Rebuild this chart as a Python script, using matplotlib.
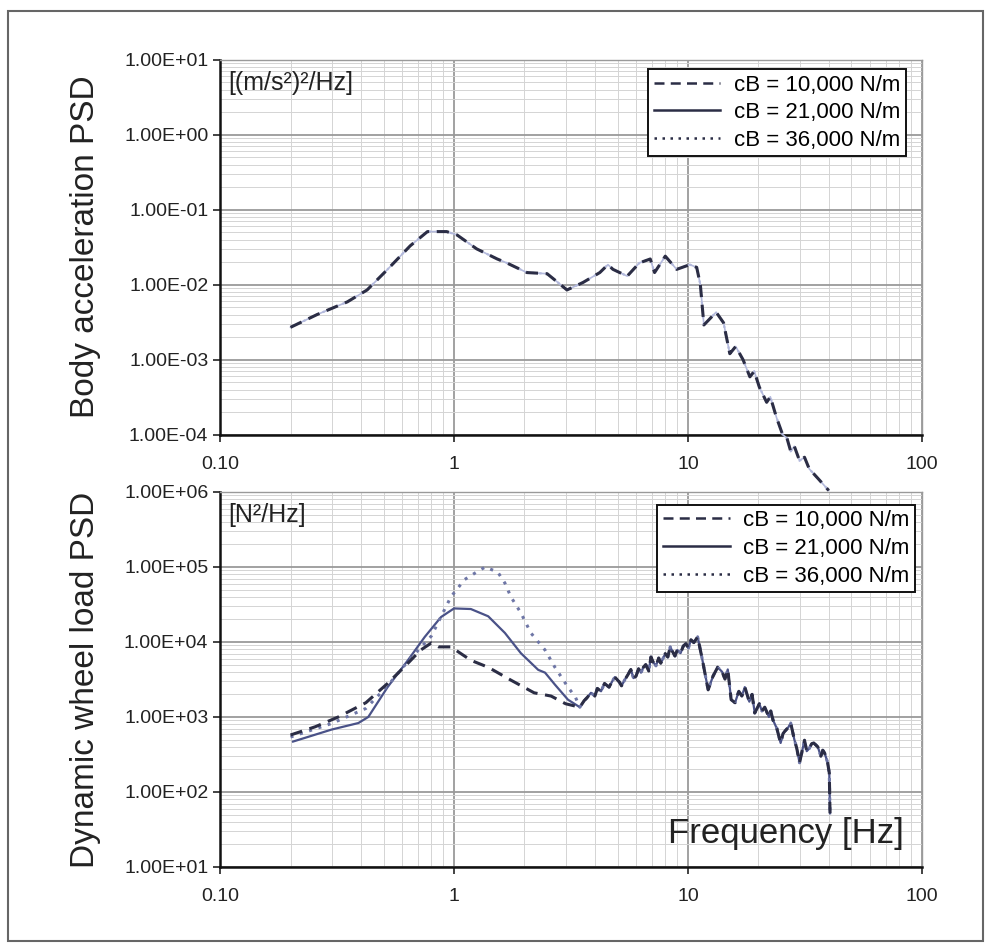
import matplotlib
matplotlib.use("Agg")
import matplotlib.pyplot as plt
from matplotlib.ticker import FixedLocator, FuncFormatter, LogLocator, NullFormatter
from matplotlib.patches import Rectangle

plt.rcParams['font.family'] = ['Liberation Sans', 'DejaVu Sans']

# legend labels
labels = ["cB = 10,000 N/m", "cB = 21,000 N/m", "cB = 36,000 N/m"]

# body acceleration PSD (the three spring rates lie on top of each other here)
body_freq = [0.2, 0.26, 0.35, 0.425, 0.52, 0.65, 0.77, 0.93, 1.03, 1.25, 1.53, 1.68,
             2.05, 2.5, 2.75, 3.04, 3.56, 4.2, 4.55, 4.78, 5.5, 6.2, 6.9, 7.2, 8.0,
             8.95, 10.2, 10.9, 11.3, 11.7, 13.2, 14.2, 15.1, 16.0, 17.2, 18.4, 19.2,
             20.2, 21.7, 22.5, 23.9, 25.4, 26.5, 27.5, 28.5, 30.0, 31.5, 33.0, 36.0, 40.0]
body_psd = [2.7e-3, 4.0e-3, 5.9e-3, 8.5e-3, 1.6e-2, 3.3e-2, 5.1e-2, 5.1e-2, 4.6e-2,
            3.0e-2, 2.2e-2, 1.95e-2, 1.45e-2, 1.4e-2, 1.1e-2, 8.5e-3, 1.07e-2, 1.45e-2,
            1.85e-2, 1.6e-2, 1.3e-2, 1.95e-2, 2.2e-2, 1.45e-2, 2.4e-2, 1.6e-2, 1.85e-2,
            1.7e-2, 1.0e-2, 2.9e-3, 4.3e-3, 3.1e-3, 1.2e-3, 1.5e-3, 1.0e-3, 5.9e-4,
            7.0e-4, 4.3e-4, 2.7e-4, 3.2e-4, 1.7e-4, 1.0e-4, 9.0e-5, 6.0e-5, 7.0e-5,
            4.5e-5, 5.0e-5, 3.5e-5, 2.6e-5, 1.8e-5]

# dynamic wheel load PSD, low frequency part differs per spring rate
wheel_freq_10k = [0.2, 0.255, 0.32, 0.42, 0.52, 0.635, 0.72, 0.8, 0.86, 0.97, 1.18,
                  1.4, 1.75, 2.2, 2.6, 3.0]
wheel_psd_10k = [575, 740, 1000, 1550, 2800, 5200, 7800, 9700, 8600, 8600, 5700,
                 4600, 3100, 2100, 1900, 1500]
wheel_freq_21k = [0.205, 0.3, 0.39, 0.43, 0.52, 0.635, 0.75, 0.88, 1.0, 1.18, 1.4,
                  1.65, 1.93, 2.29, 2.45, 2.7, 3.07]
wheel_psd_21k = [470, 680, 830, 1000, 2500, 5700, 11700, 21500, 28000, 27500, 22000,
                 13200, 7100, 4250, 3900, 2700, 1700]
wheel_freq_36k = [0.2, 0.3, 0.42, 0.52, 0.635, 0.8, 0.97, 1.11, 1.23, 1.36, 1.54,
                  1.65, 1.75, 1.93, 2.13, 2.45, 2.7, 3.07, 3.3]
wheel_psd_36k = [540, 820, 1300, 2600, 5500, 12000, 40000, 68000, 83000, 100000,
                 85000, 61000, 40000, 24500, 13200, 7800, 4600, 2500, 1850]

# high frequency part, same for all three
tail_freq = [3.45, 3.6, 3.7, 3.85, 4.0, 4.1, 4.25, 4.4, 4.6, 4.75, 4.87, 5.1, 5.2,
             5.36, 5.55, 5.7, 5.85, 6.0, 6.15, 6.3, 6.45, 6.6, 6.8, 6.95, 7.1, 7.3,
             7.5, 7.65, 7.8, 8.0, 8.2, 8.4, 8.6, 8.8, 9.0, 9.3, 9.55, 9.8, 10.05,
             10.3, 10.6, 11.0, 11.5, 12.2, 12.8, 13.4, 14.0, 14.4, 14.8, 15.3, 15.9,
             16.5, 17.0, 17.5, 18.3, 18.8, 19.3, 20.2, 20.7, 21.3, 22.2, 22.6, 23.1,
             24.0, 24.9, 25.5, 26.0, 26.8, 27.5, 28.5, 29.2, 30.0, 31.5, 32.2, 33.0,
             33.8, 34.5, 35.9, 37.0, 37.7, 38.4, 39.5, 40.2, 40.5]
tail_psd = [1350, 1650, 1800, 2100, 1900, 2400, 2200, 2800, 2500, 3000, 3400, 2900,
            2600, 3100, 3700, 4300, 3300, 3500, 4400, 3900, 4600, 5000, 4100, 6300,
            5400, 4800, 6100, 5200, 5900, 7000, 6300, 8600, 7400, 6500, 7800, 7100,
            8800, 9500, 8300, 10700, 9800, 11700, 6000, 2300, 3500, 4600, 4000, 3200,
            4300, 1700, 1550, 2200, 1900, 2500, 1600, 2000, 1130, 1500, 1200, 1350,
            1000, 1200, 910, 700, 450, 600, 650, 720, 830, 500, 380, 245, 490, 350,
            380, 440, 450, 400, 300, 360, 330, 250, 180, 52]

x_ticks = [0.1, 1, 10, 100]
x_ticklabels = ["0.10", "1", "10", "100"]

# line styles per series for the two panels
styles_top = [
    dict(linestyle=(0, (4, 2.5)), color="#2b2d45", lw=2.2, zorder=5),
    dict(linestyle="-", color="#b3b9dc", lw=1.2, zorder=3),
    dict(linestyle=(0, (1, 2.2)), color="#b3b9dc", lw=1.6, zorder=4),
]
styles_bottom = [
    dict(linestyle=(0, (4, 2.5)), color="#2b2d45", lw=2.2, zorder=5),
    dict(linestyle="-", color="#4a5288", lw=1.6, zorder=3),
    dict(linestyle=(0, (1, 2.2)), color="#6e76a6", lw=2.2, zorder=4),
]


def setup_axes(ax, ylim, unit):
    ax.set_xscale("log")
    ax.set_yscale("log")
    ax.set_xlim(0.1, 100)
    ax.set_ylim(*ylim)
    ax.xaxis.set_major_locator(FixedLocator(x_ticks))
    ax.xaxis.set_major_formatter(FuncFormatter(lambda v, p: x_ticklabels[x_ticks.index(v)] if v in x_ticks else ""))
    ax.xaxis.set_minor_locator(LogLocator(base=10, subs=range(2, 10)))
    ax.xaxis.set_minor_formatter(NullFormatter())
    ax.yaxis.set_major_locator(LogLocator(base=10, numticks=20))
    ax.yaxis.set_major_formatter(FuncFormatter(lambda v, p: f"{v:.2E}"))
    ax.yaxis.set_minor_locator(LogLocator(base=10, subs=range(2, 10), numticks=20))
    ax.yaxis.set_minor_formatter(NullFormatter())
    ax.grid(which="major", color="#9a9a9a", lw=1.3)
    ax.grid(which="minor", color="#d4d4d4", lw=0.7)
    ax.set_axisbelow(True)
    ax.tick_params(which="major", direction="out", length=5, width=1.2, labelsize=14,
                   colors="#222222")
    ax.tick_params(which="minor", length=0)
    ax.tick_params(axis="x", pad=10)
    for s in ["left", "bottom"]:
        ax.spines[s].set_color("#111111")
        ax.spines[s].set_linewidth(1.8)
    for s in ["top", "right"]:
        ax.spines[s].set_color("#9a9a9a")
        ax.spines[s].set_linewidth(1.0)
    ax.text(0.012, 0.97, unit, transform=ax.transAxes, fontsize=18, va="top", ha="left",
            color="#222222")


fig = plt.figure(figsize=(9.87, 9.47), dpi=100)
ax1 = fig.add_axes([0.223, 0.541, 0.711, 0.396])
ax2 = fig.add_axes([0.223, 0.0845, 0.711, 0.396])

setup_axes(ax1, (1e-4, 1e1), "[(m/s\u00b2)\u00b2/Hz]")
setup_axes(ax2, (1e1, 1e6), "[N\u00b2/Hz]")

# top panel: all three curves coincide, line runs a bit past the axis like in the original
for st, lab in zip(styles_top, labels):
    ax1.plot(body_freq, body_psd, label=lab, clip_on=False, **st)

wheel_freqs = [wheel_freq_10k, wheel_freq_21k, wheel_freq_36k]
wheel_psds = [wheel_psd_10k, wheel_psd_21k, wheel_psd_36k]
for fr, ps, st, lab in zip(wheel_freqs, wheel_psds, styles_bottom, labels):
    ax2.plot(fr + tail_freq, ps + tail_psd, label=lab, **st)

for ax, anchor in [(ax1, (0.977, 0.975)), (ax2, (0.99, 0.966))]:
    leg = ax.legend(loc="upper right", bbox_to_anchor=anchor, fontsize=16, frameon=True,
                    fancybox=False, framealpha=1, edgecolor="#111111", handlelength=3.0,
                    borderpad=0.25, labelspacing=0.3, handletextpad=0.6,
                    borderaxespad=0)
    leg.get_frame().set_linewidth(1.4)
    leg.set_zorder(10)
    for h in leg.get_lines():
        h.set_color("#2b2d45")
        h.set_linewidth(1.8)

ax2.text(0.975, 0.045, "Frequency [Hz]", transform=ax2.transAxes, fontsize=25,
         ha="right", va="bottom", color="#222222")

fig.text(0.087, 0.739, "Body acceleration PSD", rotation=90, fontsize=24, ha="center",
         va="center", color="#222222")
fig.text(0.087, 0.282, "Dynamic wheel load PSD", rotation=90, fontsize=24, ha="center",
         va="center", color="#222222")

fig.patches.append(Rectangle((0.008, 0.006), 0.988, 0.982, transform=fig.transFigure,
                             fill=False, edgecolor="#666666", lw=1.5))

fig.savefig("out.png", dpi=100)
